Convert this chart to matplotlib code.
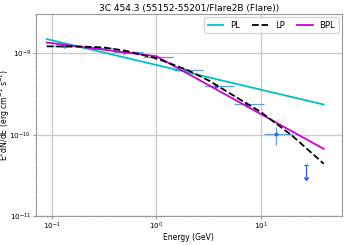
import matplotlib
matplotlib.use("Agg")
import matplotlib.pyplot as plt
import numpy as np

# Data points (GeV, erg cm^-2 s^-1)
energy = [0.131, 0.25, 0.49, 0.97, 1.89, 3.7, 7.2, 13.9]
e_lo = [0.10, 0.195, 0.38, 0.74, 1.45, 2.86, 5.5, 10.7]
e_hi = [0.195, 0.38, 0.74, 1.45, 2.80, 5.5, 10.7, 20.4]
flux = [1.22e-9, 1.16e-9, 1.04e-9, 8.9e-10, 6.2e-10, 3.97e-10, 2.41e-10, 1.01e-10]
flux_lo = [1.17e-9, 1.11e-9, 1.00e-9, 8.6e-10, 5.9e-10, 3.75e-10, 2.2e-10, 7.5e-11]
flux_hi = [1.27e-9, 1.21e-9, 1.08e-9, 9.2e-10, 6.5e-10, 4.2e-10, 2.62e-10, 1.26e-10]

ul_energy = [27.3]
ul_flux = [4.3e-11]

# Model curves
pl_e = [0.089, 40.0]
pl_f = [1.50e-9, 2.35e-10]

lp_e = [0.089, 0.2, 0.316, 0.5, 1.0, 2.0, 3.16, 5.0, 10.0, 20.0, 40.0]
lp_f = [1.22e-9, 1.21e-9, 1.18e-9, 1.08e-9, 8.7e-10, 6.2e-10, 4.65e-10, 3.25e-10, 1.90e-10, 9.7e-11, 4.4e-11]

bpl_e = [0.089, 1.0, 40.0]
bpl_f = [1.36e-9, 9.2e-10, 6.7e-11]

fig = plt.figure(figsize=(3.46, 2.45), dpi=100)
ax = fig.add_axes([0.104, 0.118, 0.884, 0.825])

ax.plot(pl_e, pl_f, color='#00c0c0', lw=1.3, label='PL', zorder=3)
ax.plot(lp_e, lp_f, color='black', lw=1.3, ls='--', label='LP', zorder=4)
ax.plot(bpl_e, bpl_f, color='#d000d0', lw=1.3, label='BPL', zorder=3)

e = np.array(energy)
f = np.array(flux)
xerr = [e - np.array(e_lo), np.array(e_hi) - e]
yerr = [f - np.array(flux_lo), np.array(flux_hi) - f]
ax.errorbar(e, f, xerr=xerr, yerr=yerr, fmt='o', ms=1.8, color='#2a6fd0',
            ecolor='#5fa0d8', elinewidth=0.9, capsize=0, zorder=2)

ul_e = np.array(ul_energy)
ul_f = np.array(ul_flux)
ax.errorbar(ul_e, ul_f, yerr=ul_f * 0.3, uplims=True, fmt='none',
            ecolor='#2a4ff0', elinewidth=0.8, capsize=1.2, zorder=2)

ax.set_xscale('log')
ax.set_yscale('log')
ax.set_xlim(0.0703, 59.6)
ax.set_ylim(1e-11, 3.05e-9)

ax.grid(True, which='major', color='#cccccc', lw=1.0)
for s in ax.spines.values():
    s.set_color('#999999')
    s.set_linewidth(0.8)
ax.tick_params(which='both', labelsize=5.2, color='#999999', length=2, pad=1.5)
ax.tick_params(which='minor', length=1)

ax.set_title('3C 454.3 (55152-55201/Flare2B (Flare))', fontsize=6.5, pad=2)
ax.set_xlabel('Energy (GeV)', fontsize=5.5, labelpad=0.5)
ax.set_ylabel('E$^2$dN/dE (erg cm$^{-2}$ s$^{-1}$)', fontsize=5.6)
ax.yaxis.set_label_coords(-0.08, 0.5)

leg = ax.legend(loc='upper right', ncol=3, fontsize=6, frameon=True,
                handlelength=1.9, columnspacing=1.5, borderaxespad=0.4)
leg.get_frame().set_edgecolor('#cccccc')

fig.savefig('out.png', dpi=100)
